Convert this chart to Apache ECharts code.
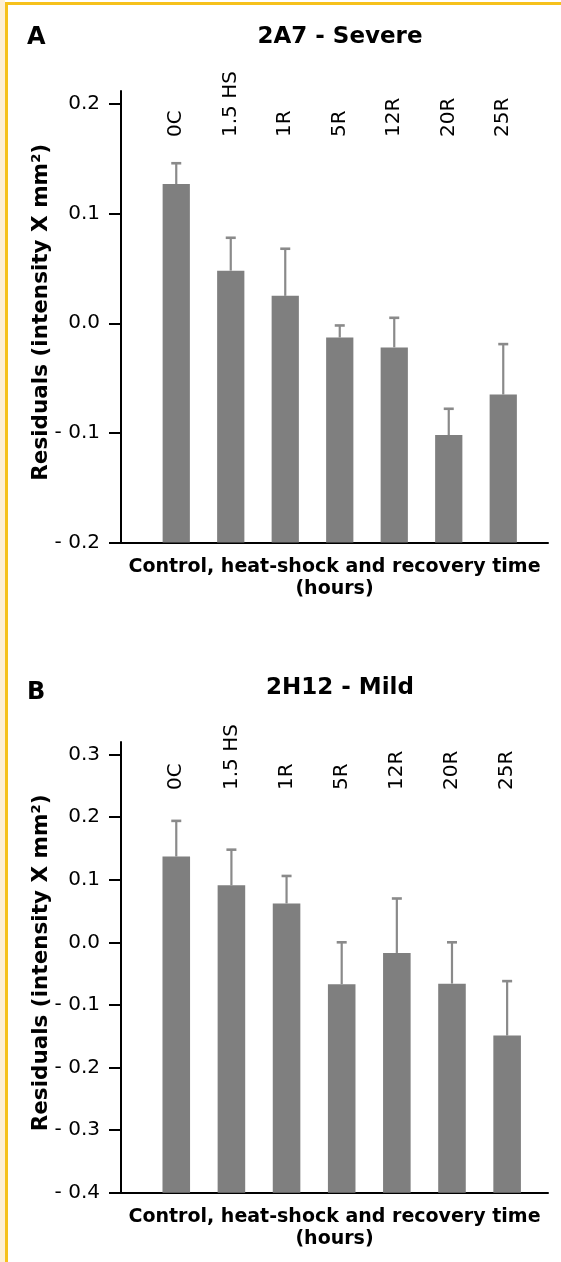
<!DOCTYPE html>
<html>
<head>
<meta charset="utf-8">
<script src="https://cdn.jsdelivr.net/npm/echarts@6/dist/echarts.min.js"></script>
<style>
html,body{margin:0;padding:0;background:#fff;}
#chart{position:absolute;left:0;top:0;width:561px;height:1262px;}
.deco{position:absolute;pointer-events:none;}
</style>
</head>
<body>
<div id="chart"></div>
<div class="deco" style="left:0;top:0;width:5px;height:1262px;background:#fdefd3;"></div>
<div class="deco" style="left:5px;top:2px;width:3px;height:1260px;background:#f6c11c;"></div>
<div class="deco" style="left:5px;top:2px;width:556px;height:3px;background:#f6c11c;"></div>
<script>
// ---- data ----
const categories = ['0C', '1.5 HS', '1R', '5R', '12R', '20R', '25R'];
const severeMeans  = [0.127, 0.048, 0.025, -0.013, -0.022, -0.102, -0.065];
const severeErrTop = [0.146, 0.078, 0.068, -0.002, 0.005, -0.078, -0.019];
const mildMeans    = [0.137, 0.091, 0.062, -0.067, -0.017, -0.066, -0.149];
const mildErrTop   = [0.194, 0.148, 0.106, 0.000, 0.070, 0.000, -0.062];
const severeTicks = [-0.2, -0.1, 0.0, 0.1, 0.2];
const mildTicks   = [-0.4, -0.3, -0.2, -0.1, 0.0, 0.1, 0.2, 0.3];
const yTitle = 'Residuals (intensity X mm\u00B2)';
const xTitle = 'Control, heat-shock and recovery time\n(hours)';

// ---- layout ----
const FONT = 'DejaVu Sans';
const panels = [
  {means: severeMeans, err: severeErrTop, ticks: severeTicks, min: -0.2, max: 0.2119,
   frame: {left: 121, right: 13, top: 91, height: 451.5},
   bars:  {left: 149, width: 381.5, top: 91, height: 451.5}, labelMargin: -46},
  {means: mildMeans, err: mildErrTop, ticks: mildTicks, min: -0.4, max: 0.32,
   frame: {left: 121, right: 13, top: 742, height: 450.7},
   bars:  {left: 148.7, width: 386, top: 742, height: 450.7}, labelMargin: -48}
];

function fmt(v) {
  if (Math.abs(v) < 1e-9) return '0.0';
  return v < 0 ? '- ' + Math.abs(v).toFixed(1) : v.toFixed(1);
}

const grid = [], xAxis = [], yAxis = [], series = [];
panels.forEach((p, k) => {
  const gF = grid.length;
  grid.push(p.frame);
  grid.push(p.bars);
  // frame axes
  xAxis.push({
    type: 'value', gridIndex: gF, min: 0, max: 1, position: 'bottom',
    axisLine: {show: true, onZero: false, lineStyle: {color: '#000', width: 2}},
    axisTick: {show: false}, axisLabel: {show: false}, splitLine: {show: false},
    name: xTitle, nameLocation: 'middle', nameGap: 13, nameMoveOverlap: false,
    nameTextStyle: {fontFamily: FONT, fontWeight: 'bold', fontSize: 19, color: '#000',
                    lineHeight: 22.5, align: 'center', verticalAlign: 'top'}
  });
  yAxis.push({
    type: 'value', gridIndex: gF, min: p.min, max: p.max,
    axisLine: {show: true, onZero: false, lineStyle: {color: '#000', width: 2}},
    axisTick: {show: true, length: 12, customValues: p.ticks, lineStyle: {color: '#000', width: 2}},
    axisLabel: {customValues: p.ticks, formatter: fmt, margin: 21,
                fontFamily: FONT, fontSize: 20, color: '#000'},
    splitLine: {show: false},
    name: yTitle, nameLocation: 'middle', nameRotate: 90, nameGap: 69, nameMoveOverlap: false,
    nameTextStyle: {fontFamily: FONT, fontWeight: 'bold', fontSize: 21.5, color: '#000',
                    padding: [0, 0, 0, 9]}
  });
  // bar axes
  xAxis.push({
    type: 'category', gridIndex: gF + 1, data: categories, position: 'top',
    axisLine: {show: false, onZero: false}, axisTick: {show: false},
    axisLabel: {rotate: -90, margin: p.labelMargin, interval: 0, hideOverlap: false,
                fontFamily: FONT, fontSize: 20, color: '#000'},
    splitLine: {show: false}
  });
  yAxis.push({
    type: 'value', gridIndex: gF + 1, min: p.min, max: p.max, show: false,
    splitLine: {show: false}
  });
  const data = categories.map((c, i) => [i, p.means[i], p.err[i]]);
  const base = p.min;
  series.push({
    type: 'custom', xAxisIndex: gF + 1, yAxisIndex: gF + 1,
    encode: {x: 0, y: [1, 2]},
    data: data,
    renderItem: function (params, api) {
      const i = api.value(0), m = api.value(1), e = api.value(2);
      const b = api.coord([i, base]);
      const t = api.coord([i, m]);
      const et = api.coord([i, e]);
      const bw = api.size([1, 0])[0] * 0.5;
      return {
        type: 'group',
        children: [
          {type: 'rect', shape: {x: t[0] - bw / 2, y: t[1], width: bw, height: b[1] - t[1]},
           style: {fill: '#7f7f7f'}},
          {type: 'line', shape: {x1: t[0], y1: t[1], x2: t[0], y2: et[1]},
           style: {stroke: '#8a8a8a', lineWidth: 2.2}},
          {type: 'line', shape: {x1: t[0] - 5, y1: et[1], x2: t[0] + 5, y2: et[1]},
           style: {stroke: '#8a8a8a', lineWidth: 2.6}}
        ]
      };
    }
  });
});

const chart = echarts.init(document.getElementById('chart'), null, {renderer: 'canvas'});
chart.setOption({
  animation: false,
  backgroundColor: 'transparent',
  title: [
    {text: 'A', left: 27, top: 25.5, padding: 0,
     textStyle: {fontFamily: FONT, fontWeight: 'bold', fontSize: 24, color: '#000'}},
    {text: '2A7 - Severe', left: 340, textAlign: 'center', top: 26, padding: 0,
     textStyle: {fontFamily: FONT, fontWeight: 'bold', fontSize: 23, color: '#000'}},
    {text: 'B', left: 27, top: 681, padding: 0,
     textStyle: {fontFamily: FONT, fontWeight: 'bold', fontSize: 24, color: '#000'}},
    {text: '2H12 - Mild', left: 340, textAlign: 'center', top: 677, padding: 0,
     textStyle: {fontFamily: FONT, fontWeight: 'bold', fontSize: 23, color: '#000'}}
  ],
  grid: grid, xAxis: xAxis, yAxis: yAxis, series: series
});
</script>
</body>
</html>
